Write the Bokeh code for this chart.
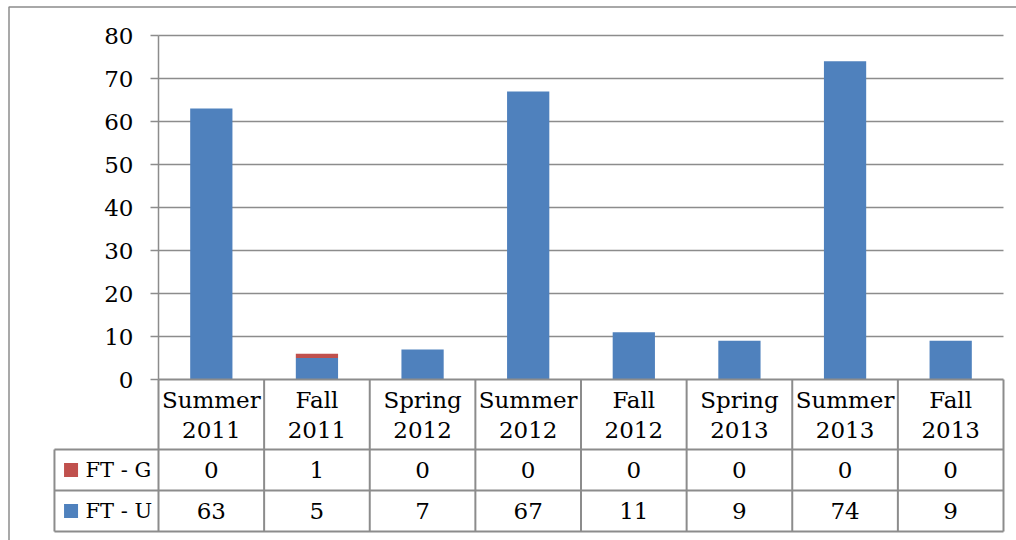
from bokeh.plotting import figure
from bokeh.models import Range1d, LinearAxis, FixedTicker, ColumnDataSource
from bokeh.core.properties import value
from bokeh.embed import file_html
from bokeh.resources import INLINE

# ---- data ----
categories = ["Summer\n2011", "Fall\n2011", "Spring\n2012", "Summer\n2012",
              "Fall\n2012", "Spring\n2013", "Summer\n2013", "Fall\n2013"]
ft_u = [63, 5, 7, 67, 11, 9, 74, 9]
ft_g = [0, 1, 0, 0, 0, 0, 0, 0]
series_names = ["FT - G", "FT - U"]
series_colors = ["#C0504D", "#4F81BD"]
y_ticks = [0, 10, 20, 30, 40, 50, 60, 70, 80]

FONT = value("DejaVu Serif")
GRAY = "#8c8c8c"
n = len(categories)
xc = [i + 0.5 for i in range(n)]

# table geometry in data units (row boundaries below zero)
header_bottom = -16.28
row1_bottom = -25.81
row2_bottom = -35.35
legend_left = -0.985

W, H = 1016, 540
p = figure(width=W, height=H, output_backend="svg", toolbar_location=None,
           x_range=Range1d(-1.4959, 8.1231), y_range=Range1d(-37.442, 88.14),
           x_axis_type=None, y_axis_type=None, min_border=0,
           min_border_left=0, min_border_right=0, min_border_top=0, min_border_bottom=0)
p.grid.visible = False
p.outline_line_color = None
p.background_fill_color = "white"
p.border_fill_color = "white"

# outer chart border (left and top edges visible)
p.line(x=[-1.4154, -1.4154, 8.2], y=[-40, 86.63, 86.63], line_color=GRAY, line_width=1.5)

# horizontal gridlines
p.segment(x0=[0] * (len(y_ticks) - 1), x1=[n] * (len(y_ticks) - 1),
          y0=y_ticks[1:], y1=y_ticks[1:], line_color=GRAY, line_width=1.5)

# bars (stacked)
src = ColumnDataSource(dict(x=xc, u=ft_u, g=ft_g))
p.vbar_stack(["u", "g"], x="x", width=0.4, source=src,
             color=[series_colors[1], series_colors[0]], line_color=None)

# table lines
hx0 = [0, legend_left, legend_left, legend_left]
hx1 = [n, n, n, n]
hy = [0, header_bottom, row1_bottom, row2_bottom]
p.segment(x0=hx0, x1=hx1, y0=hy, y1=hy, line_color=GRAY, line_width=2)
vx = list(range(n + 1))
p.segment(x0=vx, x1=vx, y0=[0] * len(vx), y1=[row2_bottom] * len(vx),
          line_color=GRAY, line_width=2)
p.segment(x0=[legend_left], x1=[legend_left], y0=[header_bottom], y1=[row2_bottom],
          line_color=GRAY, line_width=2)

# header labels
p.text(x=xc, y=[header_bottom / 2 - 0.1] * n, text=categories, text_font=FONT,
       text_font_size="23px", text_align="center", text_baseline="middle",
       text_line_height=1.17, text_color="black")

# values
r1 = (header_bottom + row1_bottom) / 2
r2 = (row1_bottom + row2_bottom) / 2
p.text(x=xc, y=[r1] * n, text=[str(v) for v in ft_g], text_font=FONT,
       text_font_size="23px", text_align="center", text_baseline="middle", text_color="black")
p.text(x=xc, y=[r2] * n, text=[str(v) for v in ft_u], text_font=FONT,
       text_font_size="23px", text_align="center", text_baseline="middle", text_color="black")

# legend keys in table
p.rect(x=[-0.828, -0.828], y=[r1, r2], width=14, height=14, width_units="screen",
       height_units="screen", fill_color=series_colors, line_color=None)
p.text(x=[-0.691, -0.691], y=[r1, r2], text=series_names, text_font=FONT,
       text_font_size="21px", text_align="left", text_baseline="middle", text_color="black")

# y axis at x = 0
yaxis = LinearAxis(fixed_location=0, bounds=(0, 80), ticker=FixedTicker(ticks=y_ticks))
yaxis.axis_line_color = GRAY
yaxis.axis_line_width = 1.5
yaxis.major_tick_line_color = GRAY
yaxis.major_tick_line_width = 1.5
yaxis.major_tick_in = 0
yaxis.major_tick_out = 8
yaxis.minor_tick_line_color = None
yaxis.major_label_standoff = 17
yaxis.major_label_text_font = "DejaVu Serif"
yaxis.major_label_text_font_size = "23px"
yaxis.major_label_text_color = "black"
p.add_layout(yaxis, "left")

open("out.html", "w").write(file_html(p, INLINE))
